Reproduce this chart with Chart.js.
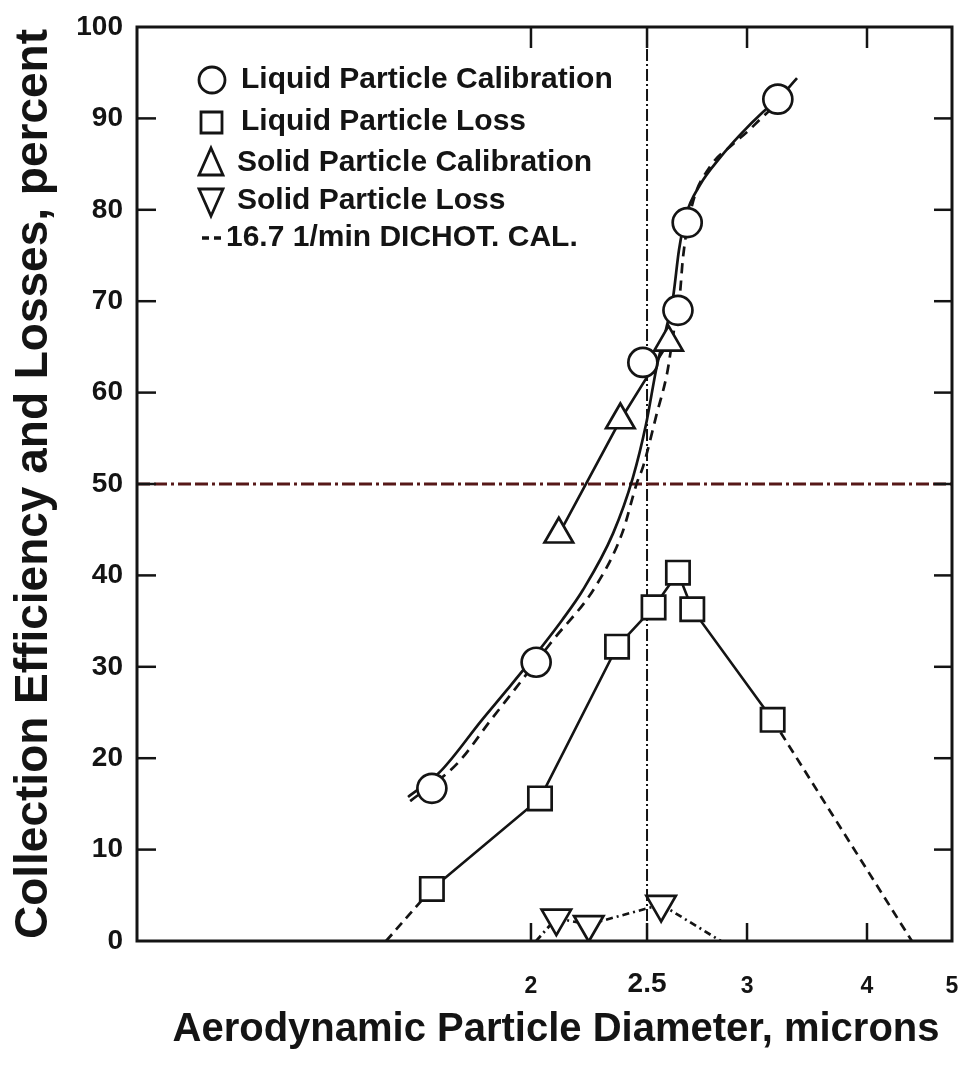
<!DOCTYPE html>
<html>
<head>
<meta charset="utf-8">
<script src="https://cdn.jsdelivr.net/npm/chart.js@4.4.1/dist/chart.umd.min.js"></script>
<style>
  html, body { margin: 0; padding: 0; background: #ffffff; overflow: hidden; }
  #wrap { width: 960px; height: 1079px; position: relative; }
</style>
</head>
<body>
<div id="wrap"><canvas id="c"></canvas></div>
<script>
// ---------------- data ----------------
const liquidCalX = [1.68, 2.02, 2.48, 2.645, 2.69, 3.23];
const liquidCalY = [16.7, 30.5, 63.3, 69.0, 78.6, 92.1];

const liquidLossX = [1.68, 2.035, 2.36, 2.53, 2.645, 2.715, 3.19];
const liquidLossY = [5.7, 15.6, 32.2, 36.5, 40.3, 36.3, 24.2];
const liquidLossZeroX = [1.55, 4.5];          // where the dashed loss extensions reach 0 %

const solidCalX = [2.11, 2.375, 2.60];
const solidCalY = [44.5, 57.0, 65.5];

const solidLossX = [2.10, 2.235, 2.565];
const solidLossY = [2.5, 1.8, 4.0];
const solidLossZeroX = [2.02, 2.86];

// smooth fit through the liquid calibration points (solid curve)
const liquidFitX = [1.611, 1.704, 1.835, 1.918, 2.0, 2.123, 2.21, 2.342, 2.433, 2.495, 2.546, 2.588, 2.622, 2.650, 2.684, 2.753, 2.856, 2.962, 3.117, 3.231, 3.382];
const liquidFitY = [15.75, 18.5, 24.2, 27.5, 30.7, 35.1, 38.4, 44.6, 50.7, 56.5, 63.0, 66.9, 70.5, 75.6, 79.4, 82.7, 85.7, 88.2, 90.7, 92.1, 94.4];

// 16.7 l/min dichotomous sampler calibration (dashed curve)
const dichotX = [1.617, 1.759, 1.864, 1.948, 2.086, 2.262, 2.383, 2.453, 2.481, 2.546, 2.593, 2.622, 2.655, 2.669, 2.714, 2.804, 2.919, 3.0, 3.117, 3.286];
const dichotY = [15.3, 19.5, 24.2, 27.7, 32.9, 38.7, 44.6, 50.2, 51.9, 57.8, 62.1, 66.3, 70.9, 74.7, 80.5, 84.7, 87.1, 88.5, 90.2, 92.3];

const cutSizeX = 2.5;     // vertical dash-dot reference line
const halfEffY = 50;      // horizontal dash-dot reference line

const xTickValues = [2, 2.5, 3, 4, 5];
const xTickLabels = ['2', '2.5', '3', '4', '5'];
const yTickValues = [0, 10, 20, 30, 40, 50, 60, 70, 80, 90, 100];

const xAxisTitle = 'Aerodynamic Particle Diameter, microns';
const yAxisTitle = 'Collection Efficiency and Losses, percent';
const legendLabels = ['Liquid Particle Calibration', 'Liquid Particle Loss', 'Solid Particle Calibration', 'Solid Particle Loss', '16.7 1/min DICHOT. CAL.'];

// ---------------- axis calibration ----------------
// The printed diameter axis is log-like but not uniform; it is calibrated on its tick marks.
const axisCalibValues = [1, 2, 2.5, 3, 4, 5];
const axisCalibFractions = [0, 0.4834, 0.6258, 0.7485, 0.8957, 1];

function warp(v) {
  const cv = axisCalibValues, cf = axisCalibFractions;
  let i = 0;
  while (i < cv.length - 2 && v > cv[i + 1]) i++;
  const l0 = Math.log10(cv[i]), l1 = Math.log10(cv[i + 1]);
  return cf[i] + (cf[i + 1] - cf[i]) * (Math.log10(v) - l0) / (l1 - l0);
}
function unwarp(f) {
  const cv = axisCalibValues, cf = axisCalibFractions;
  let i = 0;
  while (i < cf.length - 2 && f > cf[i + 1]) i++;
  const l0 = Math.log10(cv[i]), l1 = Math.log10(cv[i + 1]);
  return Math.pow(10, l0 + (l1 - l0) * (f - cf[i]) / (cf[i + 1] - cf[i]));
}

class CalibratedLogScale extends Chart.LinearScale {
  getPixelForValue(value) { return this.getPixelForDecimal(warp(value)); }
  getValueForPixel(pixel) { return unwarp(this.getDecimalForPixel(pixel)); }
  buildTicks() { return xTickValues.map(v => ({ value: v })); }
  _calculatePadding() {
    this.paddingLeft = 0; this.paddingRight = 0; this.paddingTop = 0; this.paddingBottom = 0;
  }
}
CalibratedLogScale.id = 'calibratedLog';
CalibratedLogScale.defaults = {};
Chart.register(CalibratedLogScale);

// ---------------- helpers ----------------
const INK = '#141414';
const pts = (xs, ys) => xs.map((x, i) => ({ x: x, y: ys[i] }));

const FONT = '"Liberation Sans", Arial, Helvetica, sans-serif';
Chart.defaults.font.family = FONT;
Chart.defaults.font.weight = 'bold';
Chart.defaults.color = INK;

// ---------------- plugins ----------------
const framePlugin = {
  id: 'frame',
  afterDatasetsDraw(chart) {
    const { ctx, chartArea: a, scales: { x, y } } = chart;
    ctx.save();
    ctx.strokeStyle = INK;
    ctx.setLineDash([]);
    ctx.lineWidth = 3;
    ctx.strokeRect(a.left, a.top, a.right - a.left, a.bottom - a.top);
    ctx.lineWidth = 2.5;
    const seg = (x1, y1, x2, y2) => { ctx.beginPath(); ctx.moveTo(x1, y1); ctx.lineTo(x2, y2); ctx.stroke(); };
    yTickValues.forEach(v => {
      if (v <= 0 || v >= 100) return;
      const py = y.getPixelForValue(v);
      seg(a.left, py, a.left + 19, py);
      seg(a.right, py, a.right - 18, py);
    });
    xTickValues.forEach(v => {
      if (v >= 5) return;
      const px = x.getPixelForValue(v);
      seg(px, a.top, px, a.top + 21);
      seg(px, a.bottom, px, a.bottom - 18);
    });
    // x-axis title, centred as in the reference
    ctx.fillStyle = INK;
    ctx.font = 'bold 40px ' + FONT;
    ctx.textAlign = 'center';
    ctx.textBaseline = 'middle';
    ctx.fillText(xAxisTitle, a.left + 419, a.bottom + 89);
    ctx.restore();
  }
};

const legendPlugin = {
  id: 'insideLegend',
  afterDraw(chart) {
    const { ctx, chartArea: a } = chart;
    const mx = a.left + 74;
    const tx = a.left + 104;
    const rows = [53, 95, 136, 174, 211].map(d => a.top + d);
    ctx.save();
    ctx.strokeStyle = INK;
    ctx.fillStyle = '#ffffff';
    ctx.lineWidth = 2.8;
    ctx.setLineDash([]);
    // circle
    ctx.beginPath(); ctx.arc(mx + 1, rows[0], 13, 0, Math.PI * 2); ctx.fill(); ctx.stroke();
    // square
    ctx.beginPath(); ctx.rect(mx - 10, rows[1] - 10, 21, 21); ctx.fill(); ctx.stroke();
    // triangle up
    ctx.beginPath(); ctx.moveTo(mx, rows[2] - 15); ctx.lineTo(mx + 12, rows[2] + 12); ctx.lineTo(mx - 12, rows[2] + 12); ctx.closePath(); ctx.fill(); ctx.stroke();
    // triangle down
    ctx.beginPath(); ctx.moveTo(mx, rows[3] + 15); ctx.lineTo(mx + 12, rows[3] - 12); ctx.lineTo(mx - 12, rows[3] - 12); ctx.closePath(); ctx.fill(); ctx.stroke();
    // dashed sample
    ctx.lineWidth = 3.5;
    ctx.setLineDash([7, 5]);
    ctx.beginPath(); ctx.moveTo(mx - 9, rows[4]); ctx.lineTo(mx + 14, rows[4]); ctx.stroke();
    ctx.setLineDash([]);
    ctx.fillStyle = INK;
    ctx.font = 'bold 30px ' + FONT;
    ctx.textBaseline = 'middle';
    ctx.textAlign = 'left';
    legendLabels.forEach((t, i) => {
      const xx = i === 4 ? mx + 15 : (i >= 2 ? tx - 4 : tx);
      ctx.fillText(t, xx, rows[i]);
    });
    ctx.restore();
  }
};

// ---------------- datasets ----------------
const markerBase = { showLine: false, backgroundColor: '#ffffff', borderColor: INK, borderWidth: 2.6, pointBorderWidth: 2.7 };
const lineBase = { showLine: true, pointRadius: 0, borderColor: INK, borderWidth: 2.7, fill: false };

const datasets = [
  Object.assign({}, markerBase, {
    label: legendLabels[0], data: pts(liquidCalX, liquidCalY), order: 0,
    pointStyle: 'circle', pointRadius: 14.5
  }),
  Object.assign({}, markerBase, {
    label: legendLabels[1], data: pts(liquidLossX, liquidLossY), order: 1,
    showLine: true, tension: 0, pointStyle: 'rect', pointRadius: 16.5
  }),
  Object.assign({}, markerBase, {
    label: legendLabels[2], data: pts(solidCalX, solidCalY), order: 0,
    showLine: true, tension: 0, pointStyle: 'triangle', pointRadius: 16.5
  }),
  Object.assign({}, markerBase, {
    label: legendLabels[3], data: pts(solidLossX, solidLossY), order: 1,
    showLine: true, tension: 0, borderDash: [7, 4, 2, 4], pointStyle: 'triangle', pointRotation: 180, pointRadius: 17
  }),
  Object.assign({}, lineBase, {
    label: 'Liquid calibration fit', data: pts(liquidFitX, liquidFitY), order: 5,
    cubicInterpolationMode: 'monotone'
  }),
  Object.assign({}, lineBase, {
    label: legendLabels[4], data: pts(dichotX, dichotY), order: 5,
    cubicInterpolationMode: 'monotone', borderDash: [10, 7]
  }),
  Object.assign({}, lineBase, {
    label: 'Liquid loss extension (low)', order: 6, borderDash: [9, 6],
    data: [{ x: liquidLossZeroX[0], y: 0 }, { x: liquidLossX[0], y: liquidLossY[0] }]
  }),
  Object.assign({}, lineBase, {
    label: 'Liquid loss extension (high)', order: 6, borderDash: [9, 6],
    data: [{ x: liquidLossX[liquidLossX.length - 1], y: liquidLossY[liquidLossY.length - 1] }, { x: liquidLossZeroX[1], y: 0 }]
  }),
  Object.assign({}, lineBase, {
    label: 'Solid loss extension (low)', order: 6, borderDash: [7, 4, 2, 4],
    data: [{ x: solidLossZeroX[0], y: 0 }, { x: solidLossX[0], y: solidLossY[0] }]
  }),
  Object.assign({}, lineBase, {
    label: 'Solid loss extension (high)', order: 6, borderDash: [7, 4, 2, 4],
    data: [{ x: solidLossX[solidLossX.length - 1], y: solidLossY[solidLossY.length - 1] }, { x: solidLossZeroX[1], y: 0 }]
  }),
  Object.assign({}, lineBase, {
    label: '50 % line', order: 10, borderColor: '#561818', borderWidth: 2.8, borderDash: [13, 4, 13, 4, 3, 4],
    data: [{ x: axisCalibValues[0], y: halfEffY }, { x: axisCalibValues[axisCalibValues.length - 1], y: halfEffY }]
  }),
  Object.assign({}, lineBase, {
    label: '2.5 micron line', order: 10, borderWidth: 2, borderDash: [12, 3, 2, 3],
    data: [{ x: cutSizeX, y: 0 }, { x: cutSizeX, y: 100 }]
  })
];

new Chart(document.getElementById('c'), {
  type: 'scatter',
  data: { datasets: datasets },
  options: {
    responsive: true,
    maintainAspectRatio: false,
    animation: false,
    events: [],
    layout: { autoPadding: false, padding: { left: 0, right: 8, top: 27, bottom: 0 } },
    plugins: { legend: { display: false }, tooltip: { enabled: false } },
    scales: {
      x: {
        type: 'calibratedLog', position: 'bottom', min: 1, max: 5,
        grid: { display: false, drawTicks: false, tickLength: 0 }, border: { display: false },
        ticks: {
          autoSkip: false, maxRotation: 0, minRotation: 0, padding: 43, crossAlign: 'center', color: INK,
          font: (c) => ({ size: (c.tick && c.tick.value === 2.5) ? 28 : 23, weight: 'bold' }),
          callback: (v, i) => xTickLabels[i]
        },
        title: { display: false },
        afterFit: (s) => { s.height = 138; s.paddingLeft = 0; s.paddingRight = 0; }
      },
      y: {
        position: 'left', min: 0, max: 100,
        grid: { display: false, drawTicks: false, tickLength: 0 }, border: { display: false },
        ticks: { stepSize: 10, padding: 14, color: INK, font: { size: 28, weight: 'bold' } },
        title: { display: true, text: yAxisTitle, color: INK, font: { size: 46, weight: 'bold' }, padding: { top: 7, bottom: 0 } },
        afterFit: (s) => { s.width = 137; s.paddingTop = 0; s.paddingBottom = 0; }
      }
    }
  },
  plugins: [framePlugin, legendPlugin]
});
</script>
</body>
</html>
